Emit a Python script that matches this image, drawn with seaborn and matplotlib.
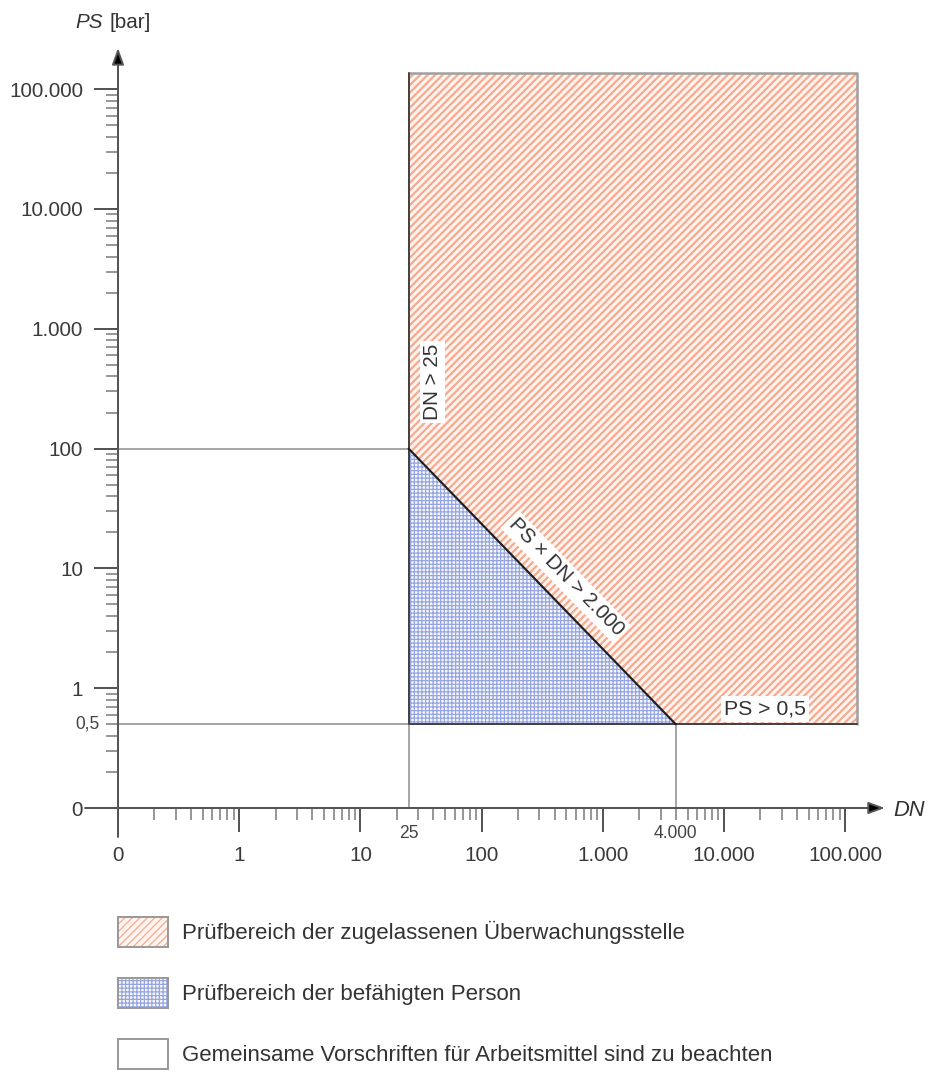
import numpy as np
import pandas as pd
import matplotlib
matplotlib.use("Agg")
import matplotlib.pyplot as plt
from matplotlib.patches import Patch
from matplotlib.ticker import NullFormatter
from matplotlib.legend_handler import HandlerTuple
import seaborn as sns

# ---- data -------------------------------------------------------------
dn_ticks = [0.1, 1, 10, 100, 1000, 10000, 100000]
dn_tick_labels = ["0", "1", "10", "100", "1.000", "10.000", "100.000"]
ps_ticks = [0.1, 1, 10, 100, 1000, 10000, 100000]
ps_tick_labels = ["0", "1", "10", "100", "1.000", "10.000", "100.000"]

dn_limit = 25          # DN > 25
dn_corner = 4000       # PS x DN boundary meets PS = 0.5
ps_limit = 0.5         # PS > 0,5
ps_corner = 100        # PS x DN boundary meets DN = 25
dn_region_end = 125000
ps_region_end = 136000

legend_labels = [
    "Prüfbereich der zugelassenen Überwachungsstelle",
    "Prüfbereich der befähigten Person",
    "Gemeinsame Vorschriften für Arbeitsmittel sind zu beachten",
]

# ---- style ------------------------------------------------------------
sns.set_theme(style="white")
plt.rcParams["font.family"] = ["Liberation Sans", "DejaVu Sans"]
DPI = 90
W, H = 928, 1075
fig = plt.figure(figsize=(W / DPI, H / DPI), dpi=DPI, facecolor="white")
ax = fig.add_axes([80 / W, 1 - 840 / H, 810 / W, 795 / H])
ax.set_facecolor("none")
ax.set_xscale("log")
ax.set_yscale("log")
ax.set_xlim(10 ** -1.3135, 10 ** 5.3696)
ax.set_ylim(10 ** -1.2671, 10 ** 5.3689)

RED_HATCH = "#f5ab90"
BLUE_HATCH = "#97a6e0"
TXT = "#333333"
AX_COL = "#555555"
FS = 16.5

origin = dn_ticks[0]


def hatched(patch, lw):
    if hasattr(patch, "set_hatch_linewidth"):
        patch.set_hatch_linewidth(lw)
    return patch


# ---- regions ----------------------------------------------------------
plt.rcParams["hatch.linewidth"] = 1.8
red = ax.fill(
    [dn_limit, dn_limit, dn_region_end, dn_region_end, dn_corner],
    [ps_corner, ps_region_end, ps_region_end, ps_limit, ps_limit],
    facecolor="#fff4ef", edgecolor=RED_HATCH, hatch="////", linewidth=0, zorder=1,
)[0]
hatched(red, 1.8)

plt.rcParams["hatch.linewidth"] = 1.0
blue = ax.fill(
    [dn_limit, dn_limit, dn_corner],
    [ps_limit, ps_corner, ps_limit],
    facecolor="#f6f7fd", edgecolor=BLUE_HATCH, hatch="++++", linewidth=0, zorder=1,
)[0]
hatched(blue, 1.0)

# ---- boundary lines ---------------------------------------------------
thin = dict(color="#8a8a8a", linewidth=1.2, estimator=None, sort=False, ax=ax, legend=False)
sns.lineplot(x=[origin, dn_limit], y=[ps_corner, ps_corner], zorder=2, **thin)
sns.lineplot(x=[origin, dn_limit], y=[ps_limit, ps_limit], zorder=2, **thin)
sns.lineplot(x=[dn_limit, dn_limit], y=[origin, ps_limit], zorder=2, **thin)
sns.lineplot(x=[dn_corner, dn_corner], y=[origin, ps_limit], zorder=2, **thin)

outer = pd.DataFrame({"x": [dn_limit, dn_region_end, dn_region_end],
                      "y": [ps_region_end, ps_region_end, ps_limit]})
sns.lineplot(data=outer, x="x", y="y", color="#a0a0a0", linewidth=2.0,
             estimator=None, sort=False, ax=ax, zorder=3)
inner = pd.DataFrame({"x": [dn_limit, dn_limit, dn_region_end],
                      "y": [ps_region_end, ps_limit, ps_limit]})
sns.lineplot(data=inner, x="x", y="y", color="#444444", linewidth=1.6,
             estimator=None, sort=False, ax=ax, zorder=4)
sns.lineplot(x=[dn_limit, dn_corner], y=[ps_corner, ps_limit], color="#1e1e1e",
             linewidth=1.7, estimator=None, sort=False, ax=ax, zorder=4)
ax.set_xlabel("")
ax.set_ylabel("")

# ---- axes lines, arrows and ticks -------------------------------------
for side in ["top", "right", "left", "bottom"]:
    ax.spines[side].set_visible(False)
ax.spines["left"].set_position(("data", origin))
ax.spines["bottom"].set_position(("data", origin))

x_start, x_tip = 10 ** -1.272, 10 ** 5.328
y_start, y_tip = 10 ** -1.242, 10 ** 5.344
arrow = dict(arrowstyle="-|>,head_length=11,head_width=4", mutation_scale=1,
             shrinkA=0, shrinkB=0, color=AX_COL, lw=1.6, fc="black")
ax.annotate("", xy=(x_tip, origin), xytext=(x_start, origin), arrowprops=arrow,
            annotation_clip=False, zorder=6)
ax.annotate("", xy=(origin, y_tip), xytext=(origin, y_start), arrowprops=arrow,
            annotation_clip=False, zorder=6)

decades = [d for d in dn_ticks[:-1]]
minor = [d * k for d in decades for k in range(2, 10)]

ax.set_xticks(dn_ticks, dn_tick_labels)
ax.set_yticks(ps_ticks, ps_tick_labels)
ax.set_xticks(minor, minor=True)
ax.set_yticks(minor, minor=True)
ax.xaxis.set_minor_formatter(NullFormatter())
ax.yaxis.set_minor_formatter(NullFormatter())
ax.tick_params(which="major", direction="out", length=19, width=1.6,
               color=AX_COL, labelsize=FS, labelcolor="#3a3a3a")
ax.tick_params(axis="x", which="major", pad=11)
ax.tick_params(axis="y", which="major", pad=9)
ax.tick_params(which="minor", direction="out", length=9.5, width=1.2, color="#777777")
ax.tick_params(top=False, right=False, bottom=True, left=True, which="both")

# small extra tick labels
ax.annotate("25", xy=(dn_limit, origin), xytext=(0, -25), textcoords="offset pixels",
            ha="center", va="center", fontsize=14, color="#444444")
ax.annotate("4.000", xy=(dn_corner, origin), xytext=(0, -25), textcoords="offset pixels",
            ha="center", va="center", fontsize=14, color="#444444")
ax.annotate("0,5", xy=(origin, ps_limit), xytext=(-18, 0), textcoords="offset pixels",
            ha="right", va="center", fontsize=14, color="#444444")

# axis titles
fig.text(75 / W, 1 - 22 / H, "PS", style="italic", fontsize=FS, color=TXT,
         ha="left", va="center")
fig.text(109 / W, 1 - 22 / H, "[bar]", fontsize=FS, color=TXT, ha="left", va="center")
fig.text(893 / W, 1 - 811 / H, "DN", style="italic", fontsize=FS + 1, color=TXT,
         ha="left", va="center")

# ---- boundary annotations --------------------------------------------
box = dict(boxstyle="square,pad=0.15", facecolor="white", edgecolor="none")
ax.annotate("DN > 25", xy=(dn_limit, 360), xytext=(24, 0), textcoords="offset pixels",
            rotation=90, ha="center", va="center", fontsize=FS, color=TXT,
            bbox=box, zorder=5)
ax.text(497, 8.47, "PS × DN > 2.000", rotation=-45.7, rotation_mode="anchor",
        ha="center", va="center", fontsize=FS, color=TXT, bbox=box, zorder=5)
ax.text(21770, 0.67, "PS > 0,5", ha="center", va="center", fontsize=FS + 0.5,
        color=TXT, bbox=box, zorder=5)

# ---- legend -----------------------------------------------------------
LFS = 17.8
frame = dict(facecolor="none", edgecolor="#9a9a9a", linewidth=1.6)
plt.rcParams["hatch.linewidth"] = 1.8
h_red = hatched(Patch(facecolor="#fff4ef", edgecolor=RED_HATCH, hatch="////", linewidth=0), 1.8)
plt.rcParams["hatch.linewidth"] = 1.0
h_blue = hatched(Patch(facecolor="#f6f7fd", edgecolor=BLUE_HATCH, hatch="++++", linewidth=0), 1.0)
h_white = Patch(facecolor="white", edgecolor="none")
handles = [(h_red, Patch(**frame)), (h_blue, Patch(**frame)), (h_white, Patch(**frame))]
fig.legend(handles, legend_labels, loc="upper left",
           bbox_to_anchor=(118 / W, 1 - 917 / H), frameon=False, fontsize=LFS,
           handlelength=2.25, handleheight=1.72, handletextpad=0.63,
           labelspacing=1.38, borderpad=0, borderaxespad=0,
           labelcolor=TXT, handler_map={tuple: HandlerTuple(ndivide=1)})

fig.savefig("out.png", dpi=DPI, facecolor="white")
